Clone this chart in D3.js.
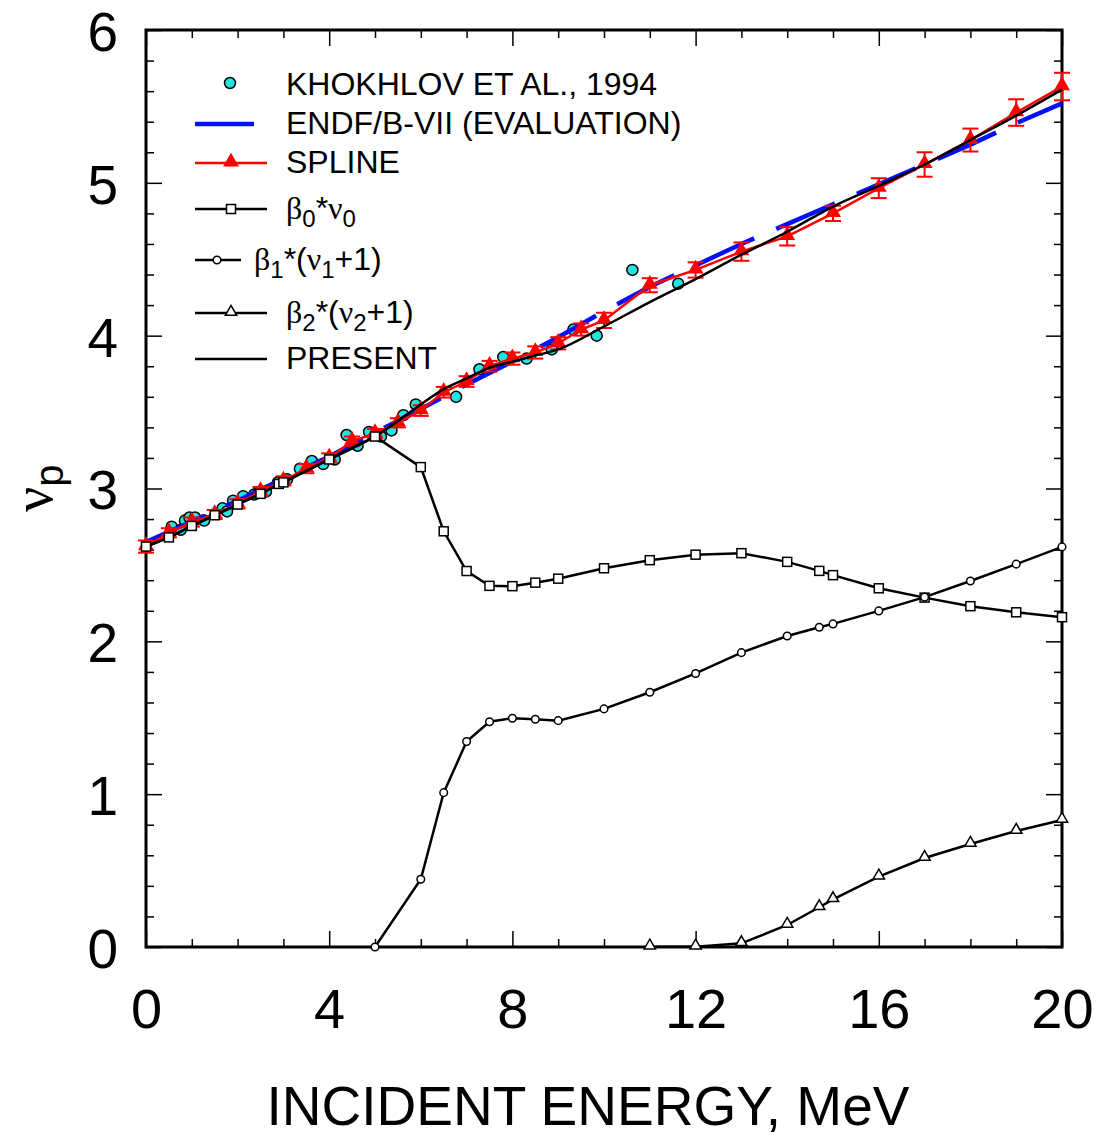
<!DOCTYPE html>
<html>
<head>
<meta charset="utf-8">
<script src="https://cdn.jsdelivr.net/npm/d3@7"></script>
<style>
  body { margin: 0; background: #fff; }
  svg { display: block; }
  text { font-family: "Liberation Sans", Arial, sans-serif; fill: #000; }
  .greek { font-family: "Liberation Serif", "DejaVu Serif", serif; }
</style>
</head>
<body>
<svg id="chart" width="1097" height="1136"></svg>
<script>
// ---- data ----
var khokhlovE = [0.56,0.76,0.85,0.95,1.07,1.27,1.67,1.77,1.90,2.12,2.36,2.45,2.62,2.88,3.08,3.36,3.62,3.87,4.12,4.38,4.62,4.87,5.13,5.36,5.62,5.89,6.77,7.28,7.80,8.31,8.86,9.33,9.84,10.62,11.62];
var khokhlovNu = [2.75,2.73,2.79,2.81,2.81,2.79,2.87,2.85,2.92,2.95,2.96,2.97,2.98,3.04,3.06,3.13,3.18,3.16,3.19,3.35,3.28,3.37,3.34,3.38,3.48,3.55,3.60,3.78,3.86,3.85,3.91,4.04,4.00,4.43,4.34];

var endfE  = [0,2,4,6,7,8,9,10,11,12,13,14,15,16,17,18,19,20];
var endfNu = [2.65,2.92,3.21,3.52,3.68,3.83,3.99,4.16,4.32,4.46,4.60,4.73,4.86,4.99,5.12,5.25,5.39,5.52];

var splineE   = [0,0.5,1,1.5,2,2.5,3,3.5,4,4.5,5,5.5,6,6.5,7,7.5,8,8.5,9,9.5,10,11,12,13,14,15,16,17,18,19,20];
var splineNu  = [2.62,2.71,2.78,2.83,2.90,2.98,3.05,3.13,3.20,3.31,3.36,3.43,3.51,3.63,3.70,3.80,3.85,3.89,3.95,4.04,4.10,4.33,4.43,4.55,4.65,4.80,4.965,5.12,5.28,5.46,5.63];
var splineErr = [0.04,0.03,0.03,0.03,0.03,0.03,0.03,0.03,0.03,0.03,0.03,0.03,0.035,0.035,0.035,0.035,0.04,0.04,0.04,0.04,0.05,0.046,0.05,0.06,0.06,0.05,0.065,0.08,0.075,0.087,0.09];

var b0E  = [0,0.5,1,1.5,2,2.5,2.9,3,4,5,6,6.5,7,7.5,8,8.5,9,10,11,12,13,14,14.7,15,16,17,18,19,20];
var b0Nu = [2.62,2.68,2.755,2.825,2.895,2.965,3.03,3.04,3.19,3.34,3.14,2.72,2.46,2.363,2.361,2.384,2.41,2.478,2.531,2.567,2.577,2.52,2.461,2.433,2.347,2.286,2.23,2.19,2.158];

var b1E  = [5,6,6.5,7,7.5,8,8.5,9,10,11,12,13,14,14.7,15,16,17,18,19,20];
var b1Nu = [0,0.443,1.01,1.344,1.474,1.497,1.49,1.481,1.558,1.667,1.79,1.926,2.035,2.092,2.114,2.199,2.289,2.395,2.505,2.618];

var b2E  = [11,12,13,14,14.7,15,16,17,18,19,20];
var b2Nu = [0.002,0.002,0.024,0.144,0.26,0.312,0.46,0.582,0.674,0.759,0.831];

var presentE  = [0,0.5,1,1.5,2,2.5,3,4,5,6,6.5,7,7.5,8,8.5,9,10,11,12,13,14,15,16,17,18,19,20];
var presentNu = [2.62,2.68,2.755,2.825,2.895,2.965,3.04,3.19,3.34,3.55,3.65,3.72,3.79,3.83,3.87,3.91,4.06,4.22,4.37,4.53,4.68,4.845,4.98,5.12,5.28,5.44,5.61];

var xMajor = [0,4,8,12,16,20];
var yMajor = [0,1,2,3,4,5,6];

function zip(a, b){ return a.map(function(v,i){ return [v, b[i]]; }); }

var svg = d3.select("#chart");
var L = 146, R = 1062, T = 30, B = 947;
var x = d3.scaleLinear().domain([0,20]).range([L,R]);
var y = d3.scaleLinear().domain([0,6]).range([B,T]);

// ---- axes (ticks inward on all four sides) ----
var xMinor = d3.range(0,21,1).filter(function(d){ return d%4 != 0; });
var yMinor = d3.range(0,31,1).map(function(d){ return d/5; }).filter(function(d){ return Math.abs(d-Math.round(d))>1e-6; });

function axisG(axis, tx, ty){
  var g = svg.append("g").attr("transform","translate("+tx+","+ty+")").call(axis);
  g.select(".domain").remove();
  g.selectAll(".tick line").attr("stroke","#000").attr("stroke-width",1.5);
  return g;
}
var gb = axisG(d3.axisBottom(x).tickValues(xMajor).tickSize(-16).tickPadding(41).tickFormat(d3.format("d")), 0, B);
gb.selectAll("text").attr("font-size",56).attr("font-family","Liberation Sans, Arial, sans-serif");
axisG(d3.axisBottom(x).tickValues(xMinor).tickSize(-8).tickFormat(""), 0, B);
axisG(d3.axisTop(x).tickValues(xMajor).tickSize(-16).tickFormat(""), 0, T);
axisG(d3.axisTop(x).tickValues(xMinor).tickSize(-8).tickFormat(""), 0, T);
var gl = axisG(d3.axisLeft(y).tickValues(yMajor).tickSize(-16).tickPadding(28).tickFormat(d3.format("d")), L, 0);
gl.selectAll("text").attr("font-size",55).attr("dy","0.37em").attr("font-family","Liberation Sans, Arial, sans-serif");
axisG(d3.axisLeft(y).tickValues(yMinor).tickSize(-8).tickFormat(""), L, 0);
axisG(d3.axisRight(y).tickValues(yMajor).tickSize(-16).tickFormat(""), R, 0);
axisG(d3.axisRight(y).tickValues(yMinor).tickSize(-8).tickFormat(""), R, 0);

svg.append("rect").attr("x",L).attr("y",T).attr("width",R-L).attr("height",B-T)
   .attr("fill","none").attr("stroke","#000").attr("stroke-width",3);

// axis titles
svg.append("text").attr("x",588).attr("y",1125).attr("text-anchor","middle")
   .attr("font-size",55).text("INCIDENT ENERGY, MeV");
var yl = svg.append("text").attr("transform","translate(52,512) rotate(-90)").attr("font-size",56);
yl.append("tspan").attr("class","greek").text("ν");
yl.append("tspan").attr("font-size",40).attr("dy",11).text("p");

// ---- series ----
var line = d3.line().x(function(d){ return x(d[0]); }).y(function(d){ return y(d[1]); });
var plot = svg.append("g");

// Khokhlov data
plot.selectAll(".kh").data(zip(khokhlovE,khokhlovNu)).enter().append("circle")
  .attr("class","kh").attr("cx",function(d){ return x(d[0]); }).attr("cy",function(d){ return y(d[1]); })
  .attr("r",5.5).attr("fill","#22e2e2").attr("stroke","#000").attr("stroke-width",1.5);

// ENDF/B-VII
plot.append("path").datum(zip(endfE,endfNu)).attr("d",line)
  .attr("fill","none").attr("stroke","#0010ff").attr("stroke-width",4.5).attr("stroke-dasharray","64,24");

// spline with error bars
var sp = zip(splineE,splineNu).map(function(d,i){ return [d[0],d[1],splineErr[i]]; });
plot.append("path").datum(sp).attr("d",line).attr("fill","none").attr("stroke","#ff0000").attr("stroke-width",2.5);
var eb = plot.selectAll(".eb").data(sp).enter().append("g").attr("class","eb")
  .attr("stroke","#ff0000").attr("stroke-width",2);
eb.append("line").attr("x1",function(d){ return x(d[0]); }).attr("x2",function(d){ return x(d[0]); })
  .attr("y1",function(d){ return y(d[1]-d[2]); }).attr("y2",function(d){ return y(d[1]+d[2]); });
eb.append("line").attr("x1",function(d){ return x(d[0])-8; }).attr("x2",function(d){ return x(d[0])+8; })
  .attr("y1",function(d){ return y(d[1]-d[2]); }).attr("y2",function(d){ return y(d[1]-d[2]); });
eb.append("line").attr("x1",function(d){ return x(d[0])-8; }).attr("x2",function(d){ return x(d[0])+8; })
  .attr("y1",function(d){ return y(d[1]+d[2]); }).attr("y2",function(d){ return y(d[1]+d[2]); });
var triBig = d3.symbol().type(d3.symbolTriangle).size(110);
plot.selectAll(".st").data(sp).enter().append("path").attr("class","st")
  .attr("d",triBig).attr("transform",function(d){ return "translate("+x(d[0])+","+(y(d[1])-1)+")"; })
  .attr("fill","#ff0000");

// present
plot.append("path").datum(zip(presentE,presentNu)).attr("d",line.curve(d3.curveMonotoneX))
  .attr("fill","none").attr("stroke","#000").attr("stroke-width",2.5);
line.curve(d3.curveLinear);

// beta components
function blackSeries(E, Nu, marker){
  plot.append("path").datum(zip(E,Nu)).attr("d",line).attr("fill","none").attr("stroke","#000").attr("stroke-width",2.5);
  var pts = plot.append("g").selectAll("path").data(zip(E,Nu)).enter();
  marker(pts);
}
blackSeries(b0E, b0Nu, function(s){
  s.append("rect").attr("x",function(d){ return x(d[0])-4.5; }).attr("y",function(d){ return y(d[1])-4.5; })
   .attr("width",9).attr("height",9).attr("fill","#fff").attr("stroke","#000").attr("stroke-width",1.5);
});
blackSeries(b1E, b1Nu, function(s){
  s.append("circle").attr("cx",function(d){ return x(d[0]); }).attr("cy",function(d){ return y(d[1]); })
   .attr("r",3.8).attr("fill","#fff").attr("stroke","#000").attr("stroke-width",1.5);
});
var triSmall = d3.symbol().type(d3.symbolTriangle).size(55);
blackSeries(b2E, b2Nu, function(s){
  s.append("path").attr("d",triSmall).attr("transform",function(d){ return "translate("+x(d[0])+","+(y(d[1])-1)+")"; })
   .attr("fill","#fff").attr("stroke","#000").attr("stroke-width",1.5);
});

// ---- legend ----
var lg = svg.append("g");
var fs = 32, sub = 24;
lg.append("circle").attr("cx",230).attr("cy",83).attr("r",5.5).attr("fill","#22e2e2").attr("stroke","#000").attr("stroke-width",1.5);
lg.append("text").attr("x",286).attr("y",95).attr("font-size",fs).text("KHOKHLOV ET AL., 1994");

lg.append("line").attr("x1",195).attr("x2",254).attr("y1",124).attr("y2",124).attr("stroke","#0010ff").attr("stroke-width",4.5);
lg.append("text").attr("x",286).attr("y",134).attr("font-size",fs).text("ENDF/B-VII (EVALUATION)");

lg.append("line").attr("x1",195).attr("x2",267).attr("y1",163).attr("y2",163).attr("stroke","#ff0000").attr("stroke-width",2.5);
lg.append("path").attr("d",triBig).attr("transform","translate(231,162)").attr("fill","#ff0000");
lg.append("text").attr("x",286).attr("y",173).attr("font-size",fs).text("SPLINE");

lg.append("line").attr("x1",195).attr("x2",267).attr("y1",209).attr("y2",209).attr("stroke","#000").attr("stroke-width",2.5);
lg.append("rect").attr("x",226.5).attr("y",204.5).attr("width",9).attr("height",9).attr("fill","#fff").attr("stroke","#000").attr("stroke-width",1.5);
var t0 = lg.append("text").attr("x",286).attr("y",219).attr("font-size",fs);
t0.append("tspan").attr("class","greek").text("β");
t0.append("tspan").attr("font-size",sub).attr("dy",8).text("0");
t0.append("tspan").attr("dy",-8).text("*");
t0.append("tspan").attr("class","greek").text("ν");
t0.append("tspan").attr("font-size",sub).attr("dy",8).text("0");

lg.append("line").attr("x1",195).attr("x2",241).attr("y1",260).attr("y2",260).attr("stroke","#000").attr("stroke-width",2.5);
lg.append("circle").attr("cx",217).attr("cy",260).attr("r",3.8).attr("fill","#fff").attr("stroke","#000").attr("stroke-width",1.5);
var t1 = lg.append("text").attr("x",254).attr("y",270).attr("font-size",fs);
t1.append("tspan").attr("class","greek").text("β");
t1.append("tspan").attr("font-size",sub).attr("dy",8).text("1");
t1.append("tspan").attr("dy",-8).text("*(");
t1.append("tspan").attr("class","greek").text("ν");
t1.append("tspan").attr("font-size",sub).attr("dy",8).text("1");
t1.append("tspan").attr("dy",-8).text("+1)");

lg.append("line").attr("x1",195).attr("x2",267).attr("y1",313).attr("y2",313).attr("stroke","#000").attr("stroke-width",2.5);
lg.append("path").attr("d",triSmall).attr("transform","translate(231,312)").attr("fill","#fff").attr("stroke","#000").attr("stroke-width",1.5);
var t2 = lg.append("text").attr("x",286).attr("y",323).attr("font-size",fs);
t2.append("tspan").attr("class","greek").text("β");
t2.append("tspan").attr("font-size",sub).attr("dy",8).text("2");
t2.append("tspan").attr("dy",-8).text("*(");
t2.append("tspan").attr("class","greek").text("ν");
t2.append("tspan").attr("font-size",sub).attr("dy",8).text("2");
t2.append("tspan").attr("dy",-8).text("+1)");

lg.append("line").attr("x1",195).attr("x2",267).attr("y1",359).attr("y2",359).attr("stroke","#000").attr("stroke-width",2.5);
lg.append("text").attr("x",286).attr("y",369).attr("font-size",fs).text("PRESENT");
</script>
</body>
</html>
